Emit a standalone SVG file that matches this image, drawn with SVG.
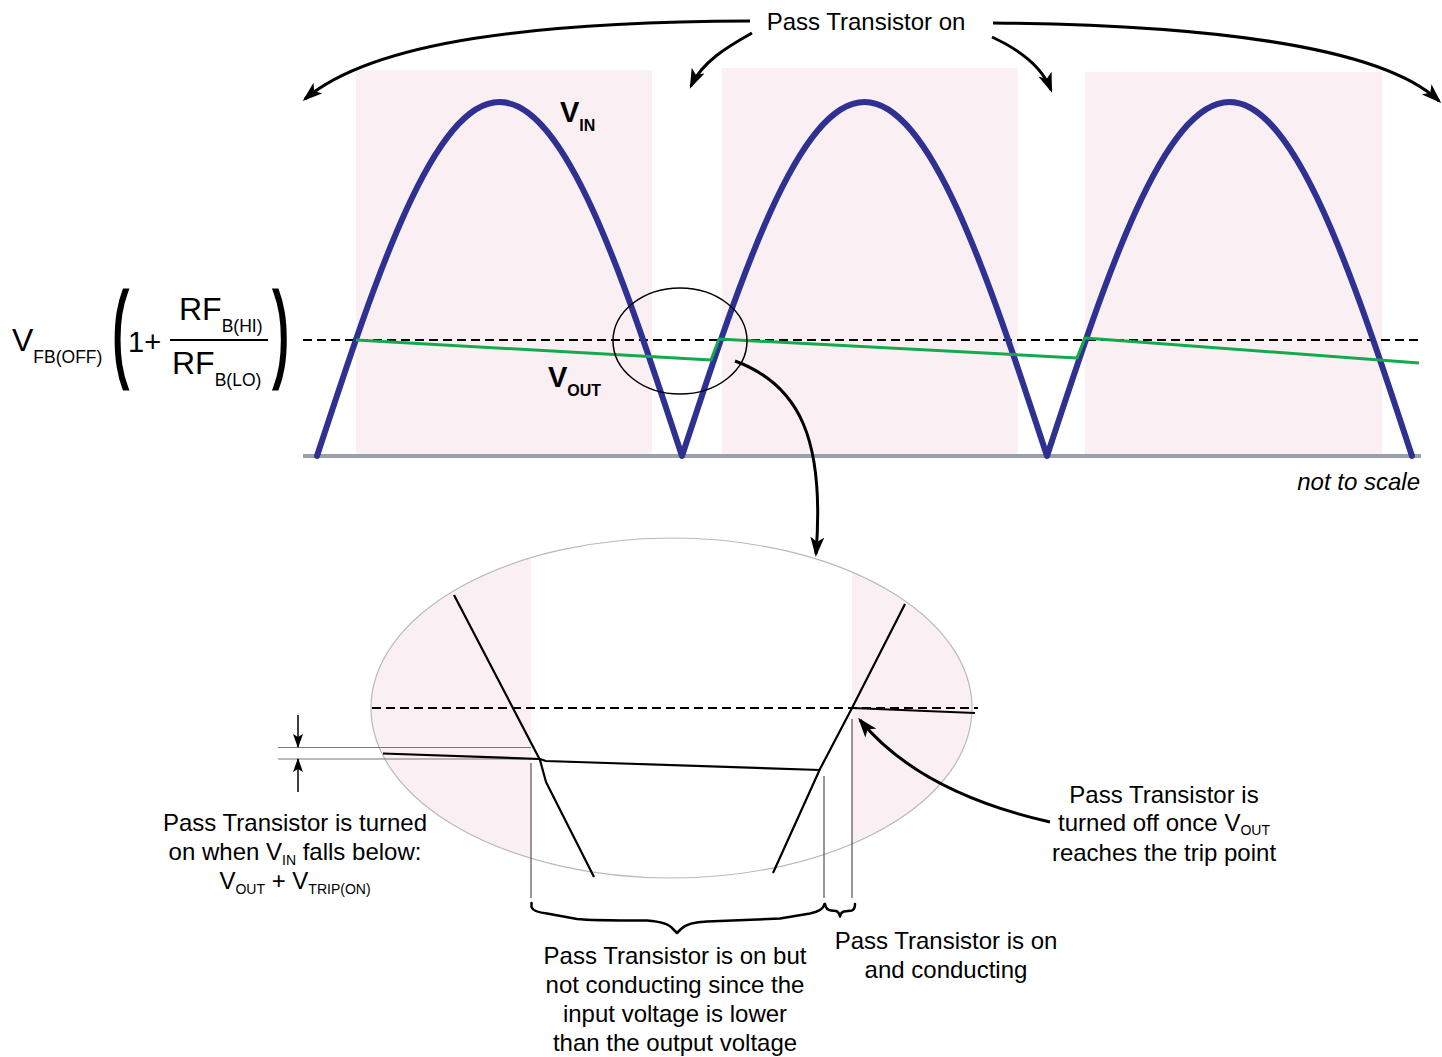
<svg xmlns="http://www.w3.org/2000/svg" width="1442" height="1057" viewBox="0 0 1442 1057">
<defs>
<style>
text{font-family:"Liberation Sans",Arial,Helvetica,sans-serif;fill:#000}
.t{font-size:24px}
.c{text-anchor:middle}
.sub{font-size:14px}
.pink{fill:#faf0f4}
.vin{fill:none;stroke:#2f3192;stroke-width:6;stroke-linecap:round;stroke-linejoin:round}
.vout{fill:none;stroke:#12aa4c;stroke-width:3;stroke-linejoin:round}
.dash{fill:none;stroke:#000;stroke-width:2;stroke-dasharray:9 5}
.blk{fill:none;stroke:#000;stroke-width:2.2;stroke-linejoin:round}
.thin{fill:none;stroke:#444;stroke-width:1.1}
.arr{fill:none;stroke:#000;stroke-width:3;marker-end:url(#ah)}
.brace{fill:none;stroke:#000;stroke-width:2.5;stroke-linejoin:round;stroke-linecap:round}
</style>
<marker id="ah" viewBox="0 0 20 14" refX="17" refY="7" markerWidth="20" markerHeight="14" markerUnits="userSpaceOnUse" orient="auto"><path d="M0,0 L20,7 L0,14 L5,7 z" fill="#000"/></marker>
<marker id="ahs" viewBox="0 0 14 10" refX="13" refY="5" markerWidth="14" markerHeight="10" markerUnits="userSpaceOnUse" orient="auto"><path d="M0,0 L14,5 L0,10 L3,5 z" fill="#000"/></marker>
<clipPath id="lens"><ellipse cx="671.5" cy="708" rx="300.5" ry="170"/></clipPath>
</defs>

<g id="chart">
<rect class="pink" x="356" y="70" width="296" height="386"/>
<rect class="pink" x="722" y="68" width="296" height="388"/>
<rect class="pink" x="1085" y="72" width="297" height="384"/>
<line x1="303" y1="456" x2="1421" y2="456" stroke="#9aa0a6" stroke-width="4"/>
<line class="dash" x1="303" y1="340" x2="1421" y2="340"/>
<path id="vin-curve" class="vin" d="M317,456 C376.52,274.65 433.45,102 499.5,102 C565.55,102 622.48,274.65 682,456 C741.52,274.65 798.45,102 864.5,102 C930.55,102 987.48,274.65 1047,456 C1106.52,274.65 1163.45,102 1229.5,102 C1295.55,102 1352.48,274.65 1412,456"/>
<path id="vout-curve" class="vout" d="M356,340 L711,360 L719,339 L1077,358 L1085,338 L1419,363"/>
<ellipse id="lens-small" cx="680" cy="341" rx="67" ry="53" fill="none" stroke="#000" stroke-width="1.5"/>
</g>

<g id="labels">
<text x="560" y="122" font-size="29" font-weight="bold">V<tspan font-size="16" dy="9">IN</tspan></text>
<text x="548" y="387" font-size="29" font-weight="bold">V<tspan font-size="16" dy="9">OUT</tspan></text>
<text x="1420" y="490" class="t" font-style="italic" text-anchor="end">not to scale</text>
<text x="866" y="30" class="t c">Pass Transistor on</text>
</g>

<g id="formula">
<text x="12" y="351" font-size="32">V<tspan font-size="17.5" dy="12">FB(OFF)</tspan></text>
<text transform="translate(113,366) scale(0.42,1)" font-size="103" stroke="#000" stroke-width="5">(</text>
<text x="128" y="352" font-size="29">1+</text>
<text x="179" y="320" font-size="32">RF<tspan font-size="17.5" dy="12">B(HI)</tspan></text>
<line x1="170" y1="340" x2="268" y2="340" stroke="#000" stroke-width="2"/>
<text x="172" y="374" font-size="32">RF<tspan font-size="17.5" dy="12">B(LO)</tspan></text>
<text transform="translate(274,366) scale(0.42,1)" font-size="103" stroke="#000" stroke-width="5">)</text>
</g>

<g id="zoom-view">
<g clip-path="url(#lens)">
<rect class="pink" x="370" y="530" width="161" height="360"/>
<rect class="pink" x="852" y="530" width="125" height="360"/>
</g>
<ellipse cx="671.5" cy="708" rx="300.5" ry="170" fill="none" stroke="#b8b8c0" stroke-width="1.2"/>
<line class="dash" x1="372" y1="708" x2="978" y2="708"/>
<line x1="278" y1="747.5" x2="531" y2="747.5" stroke="#777" stroke-width="1.2"/>
<line x1="278" y1="759" x2="538" y2="759" stroke="#777" stroke-width="1.2"/>
<path class="blk" d="M454,595 L540,760 L546,782 L594,877"/>
<path class="blk" d="M773,873 L820,769 L852,708 L905,604"/>
<path class="blk" d="M383,753.5 L540,759 L546,761 L820,770"/>
<path class="blk" d="M852,708 L975,713"/>
<line class="thin" x1="531" y1="763" x2="531" y2="898"/>
<line class="thin" x1="824" y1="776" x2="824" y2="898"/>
<line class="thin" x1="852" y1="719" x2="852" y2="898"/>
<path class="brace" d="M531.5,903 L531.5,907 Q533,912 547,913.5 L577,919 Q590,920.5 647,920.5 Q668,922 673,929 L677,933 L681,929 Q688,922 707,921.5 L780,918.5 L810,913.5 Q823,911 824.5,904"/>
<path class="brace" d="M825,904 Q826,910 831,910.5 L836,911 Q839,912 840,916.5 Q841,912 844,911.5 L852,910.5 Q855,909 855,904"/>
</g>

<g id="connectors">
<path class="arr" d="M750,21 C540,22 375,40 305,99"/>
<path class="arr" d="M752,33 C727,47 702,62 691,86"/>
<path class="arr" d="M992,37 C1020,50 1042,66 1051,90"/>
<path class="arr" d="M993,23 C1200,25 1380,45 1439,101"/>
<path class="arr" d="M735,361 C800,385 825,440 816,554"/>
<path class="arr" d="M1050,822 C975,805 905,775 860,720"/>
<line x1="298" y1="715" x2="298" y2="747" stroke="#000" stroke-width="1.5" marker-end="url(#ahs)"/>
<line x1="298" y1="792" x2="298" y2="759" stroke="#000" stroke-width="1.5" marker-end="url(#ahs)"/>
</g>

<g id="note-left">
<text class="t c" x="295" y="831">Pass Transistor is turned</text>
<text class="t c" x="295" y="860">on when V<tspan class="sub" dy="5">IN</tspan><tspan dy="-5"> falls below:</tspan></text>
<text class="t c" x="295" y="889">V<tspan class="sub" dy="5">OUT</tspan><tspan dy="-5"> + V</tspan><tspan class="sub" dy="5">TRIP(ON)</tspan></text>
</g>

<g id="note-right">
<text class="t c" x="1164" y="803">Pass Transistor is</text>
<text class="t c" x="1164" y="831">turned off once V<tspan class="sub" dy="4">OUT</tspan></text>
<text class="t c" x="1164" y="861">reaches the trip point</text>
</g>

<g id="note-bottom">
<text class="t c" x="675" y="964">Pass Transistor is on but</text>
<text class="t c" x="675" y="993">not conducting since the</text>
<text class="t c" x="675" y="1022">input voltage is lower</text>
<text class="t c" x="675" y="1051">than the output voltage</text>
</g>

<g id="note-conducting">
<text class="t c" x="946" y="949">Pass Transistor is on</text>
<text class="t c" x="946" y="978">and conducting</text>
</g>
</svg>
